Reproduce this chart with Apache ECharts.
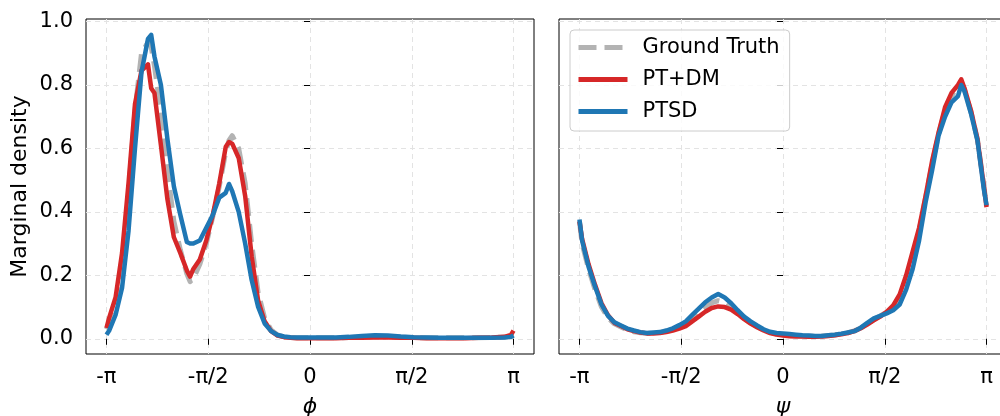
<!DOCTYPE html>
<html>
<head>
<meta charset="utf-8">
<script src="https://cdn.jsdelivr.net/npm/echarts@6/dist/echarts.min.js"></script>
<style>
html, body { margin: 0; padding: 0; background: #fff; }
#main { width: 1000px; height: 416px; }
</style>
</head>
<body>
<div id="main"></div>
<script>
// tick positions / labels
var xTickVals = [-Math.PI, -Math.PI / 2, 0, Math.PI / 2, Math.PI];
var xTickLabels = ['-π', '-π/2', '0', 'π/2', 'π'];
var yTickVals = [0, 0.2, 0.4, 0.6, 0.8, 1.0];

// phi panel
var phiX = [-3.14, -3.1, -3.0, -2.9, -2.8, -2.7, -2.6, -2.5, -2.45, -2.4,
	-2.3, -2.2, -2.1, -2.0, -1.9, -1.85, -1.8, -1.7, -1.6, -1.5,
	-1.4, -1.3, -1.25, -1.2, -1.1, -1.0, -0.9, -0.8, -0.7, -0.6,
	-0.5, -0.4, -0.3, -0.2, 0.0, 0.2, 0.4, 0.6, 0.8, 1.0,
	1.2, 1.4, 1.6, 1.8, 2.0, 2.2, 2.4, 2.6, 2.8, 3.0,
	3.1, 3.14];
var phiTruth = [0.03, 0.05, 0.11, 0.24, 0.46, 0.72, 0.9, 0.935, 0.92, 0.86,
	0.71, 0.53, 0.37, 0.28, 0.205, 0.18, 0.19, 0.235, 0.3, 0.385,
	0.48, 0.59, 0.625, 0.64, 0.6, 0.49, 0.3, 0.145, 0.065, 0.028,
	0.012, 0.006, 0.004, 0.003, 0.003, 0.003, 0.003, 0.004, 0.005, 0.006,
	0.006, 0.005, 0.004, 0.003, 0.003, 0.003, 0.003, 0.003, 0.004, 0.005,
	0.008, 0.012];
var phiPTDM = [0.034, 0.065, 0.13, 0.27, 0.49, 0.74, 0.845, 0.865, 0.79, 0.775,
	0.61, 0.44, 0.32, 0.27, 0.215, 0.196, 0.22, 0.25, 0.31, 0.39,
	0.49, 0.605, 0.62, 0.615, 0.57, 0.45, 0.26, 0.12, 0.055, 0.024,
	0.01, 0.005, 0.003, 0.002, 0.002, 0.002, 0.002, 0.003, 0.003, 0.004,
	0.004, 0.003, 0.003, 0.002, 0.002, 0.002, 0.002, 0.003, 0.004, 0.006,
	0.012, 0.026];
var phiPTSD = [0.013, 0.025, 0.075, 0.16, 0.34, 0.6, 0.84, 0.945, 0.958, 0.89,
	0.8, 0.63, 0.48, 0.39, 0.305, 0.3, 0.3, 0.31, 0.35, 0.39,
	0.445, 0.46, 0.488, 0.465, 0.4, 0.3, 0.185, 0.1, 0.048, 0.024,
	0.012, 0.007, 0.005, 0.004, 0.004, 0.004, 0.004, 0.006, 0.009, 0.011,
	0.01, 0.007, 0.005, 0.004, 0.003, 0.003, 0.003, 0.003, 0.003, 0.004,
	0.006, 0.01];

// psi panel
var psiX = [-3.14, -3.1, -3.0, -2.9, -2.8, -2.7, -2.6, -2.5, -2.4, -2.3,
	-2.2, -2.1, -2.0, -1.9, -1.8, -1.7, -1.6, -1.5, -1.4, -1.3,
	-1.2, -1.1, -1.0, -0.9, -0.8, -0.7, -0.6, -0.5, -0.4, -0.3,
	-0.2, -0.1, 0.0, 0.1, 0.2, 0.3, 0.4, 0.5, 0.6, 0.7,
	0.8, 0.9, 1.0, 1.1, 1.2, 1.3, 1.4, 1.5, 1.6, 1.7,
	1.8, 1.9, 2.0, 2.1, 2.2, 2.3, 2.4, 2.5, 2.6, 2.7,
	2.75, 2.8, 2.9, 3.0, 3.1, 3.14];
var psiTruth = [0.37, 0.3, 0.22, 0.155, 0.1, 0.066, 0.047, 0.037, 0.028, 0.022,
	0.019, 0.017, 0.018, 0.02, 0.024, 0.03, 0.038, 0.048, 0.065, 0.082,
	0.1, 0.113, 0.12, 0.115, 0.1, 0.082, 0.064, 0.05, 0.038, 0.028,
	0.02, 0.015, 0.013, 0.011, 0.01, 0.009, 0.008, 0.008, 0.009, 0.01,
	0.012, 0.015, 0.019, 0.025, 0.034, 0.047, 0.06, 0.072, 0.084, 0.1,
	0.125, 0.18, 0.255, 0.34, 0.445, 0.55, 0.645, 0.72, 0.765, 0.795,
	0.81, 0.785, 0.715, 0.628, 0.48, 0.418];
var psiPTDM = [0.37, 0.315, 0.235, 0.17, 0.112, 0.074, 0.05, 0.04, 0.03, 0.024,
	0.02, 0.017, 0.017, 0.018, 0.021, 0.026, 0.032, 0.04, 0.055, 0.07,
	0.085, 0.097, 0.102, 0.1, 0.092, 0.078, 0.062, 0.048, 0.036, 0.026,
	0.018, 0.013, 0.01, 0.008, 0.007, 0.007, 0.006, 0.006, 0.007, 0.009,
	0.011, 0.014, 0.018, 0.024, 0.033, 0.045, 0.058, 0.07, 0.085, 0.105,
	0.14, 0.2, 0.275, 0.35, 0.45, 0.56, 0.65, 0.73, 0.775, 0.8,
	0.818, 0.79, 0.72, 0.63, 0.48, 0.415];
var psiPTSD = [0.376, 0.31, 0.227, 0.165, 0.108, 0.072, 0.052, 0.042, 0.032, 0.026,
	0.021, 0.018, 0.02, 0.021, 0.026, 0.033, 0.043, 0.055, 0.075, 0.095,
	0.115, 0.13, 0.141, 0.13, 0.112, 0.09, 0.07, 0.055, 0.042, 0.03,
	0.022, 0.018, 0.017, 0.015, 0.013, 0.011, 0.01, 0.009, 0.009, 0.011,
	0.013, 0.016, 0.02, 0.024, 0.035, 0.05, 0.064, 0.072, 0.08, 0.09,
	0.108, 0.155, 0.22, 0.31, 0.43, 0.53, 0.64, 0.7, 0.745, 0.765,
	0.8, 0.78, 0.71, 0.625, 0.47, 0.421];

var FONT = 'DejaVu Sans';
var GRAY = '#b3b3b3', RED = '#d62728', BLUE = '#1f77b4';

function pairs(xs, ys) {
	var out = [];
	for (var i = 0; i < xs.length; i++) {
		out.push([xs[i], ys[i]]);
	}
	return out;
}

function piLabel(v) {
	for (var i = 0; i < xTickVals.length; i++) {
		if (Math.abs(v - xTickVals[i]) < 1e-6) return xTickLabels[i];
	}
	return '';
}

function makeX(idx, name) {
	return {
		type: 'value', gridIndex: idx, min: -3.456, max: 3.456,
		name: name, nameLocation: 'middle', nameGap: 42,
		nameTextStyle: { fontFamily: FONT, fontStyle: 'italic', fontSize: 22, color: '#000' },
		axisLine: { show: false },
		axisTick: { show: true, length: 6, customValues: xTickVals, lineStyle: { color: '#000', width: 1 } },
		axisLabel: { customValues: xTickVals, formatter: piLabel, fontFamily: FONT, fontSize: 21, color: '#000', margin: 13 },
		splitLine: { show: true, lineStyle: { color: '#e3e3e3', width: 1, type: [5, 4] } }
	};
}

function makeY(idx, withLabels) {
	var y = {
		type: 'value', gridIndex: idx, min: -0.048, max: 1.008,
		axisLine: { show: false },
		axisTick: { show: true, length: 6, customValues: yTickVals, lineStyle: { color: '#000', width: 1 } },
		axisLabel: { show: withLabels, customValues: yTickVals, formatter: function (v) { return v.toFixed(1); },
			fontFamily: FONT, fontSize: 21, color: '#000', margin: 13 },
		splitLine: { show: true, lineStyle: { color: '#e3e3e3', width: 1, type: [5, 4] } }
	};
	if (withLabels) {
		y.name = 'Marginal density';
		y.nameLocation = 'middle';
		y.nameGap = 55;
		y.nameTextStyle = { fontFamily: FONT, fontSize: 22, color: '#000' };
	}
	return y;
}

function makeSeries(name, idx, xs, ys, color, width, dash, z) {
	return {
		name: name, type: 'line', xAxisIndex: idx, yAxisIndex: idx,
		data: pairs(xs, ys), showSymbol: false, symbol: 'none', clip: true, z: z,
		lineStyle: { color: color, width: width, type: dash, cap: 'butt', join: 'round' },
		itemStyle: { color: color },
		emphasis: { disabled: true }
	};
}

var chart = echarts.init(document.getElementById('main'));
var option = {
	animation: false,
	backgroundColor: '#fff',
	grid: [
		{ left: 86, top: 19, width: 448, height: 335, outerBoundsMode: 'none', containLabel: false,
			show: true, borderColor: '#000', borderWidth: 1, backgroundColor: 'transparent' },
		{ left: 559, top: 19, width: 448, height: 335, outerBoundsMode: 'none', containLabel: false,
			show: true, borderColor: '#000', borderWidth: 1, backgroundColor: 'transparent' }
	],
	xAxis: [makeX(0, 'ϕ'), makeX(1, 'ψ')],
	yAxis: [makeY(0, true), makeY(1, false)],
	legend: {
		left: 570, top: 30, orient: 'vertical',
		data: ['Ground Truth', 'PT+DM', 'PTSD'],
		itemWidth: 49, itemHeight: 14, itemGap: 11,
		textStyle: { fontFamily: FONT, fontSize: 21, color: '#000', padding: [0, 0, 0, 10] },
		itemStyle: { opacity: 0 },
		lineStyle: { width: 5 },
		backgroundColor: 'rgba(255,255,255,0.8)', borderColor: '#cccccc', borderWidth: 1, borderRadius: 4,
		padding: [7, 10, 9, 6]
	},
	series: [
		makeSeries('Ground Truth', 0, phiX, phiTruth, GRAY, 5, [18, 8], 2),
		makeSeries('PT+DM', 0, phiX, phiPTDM, RED, 4.5, 'solid', 3),
		makeSeries('PTSD', 0, phiX, phiPTSD, BLUE, 4.5, 'solid', 4),
		makeSeries('Ground Truth', 1, psiX, psiTruth, GRAY, 5, [18, 8], 2),
		makeSeries('PT+DM', 1, psiX, psiPTDM, RED, 4.5, 'solid', 3),
		makeSeries('PTSD', 1, psiX, psiPTSD, BLUE, 4.5, 'solid', 4)
	]
};
chart.setOption(option);
</script>
</body>
</html>
